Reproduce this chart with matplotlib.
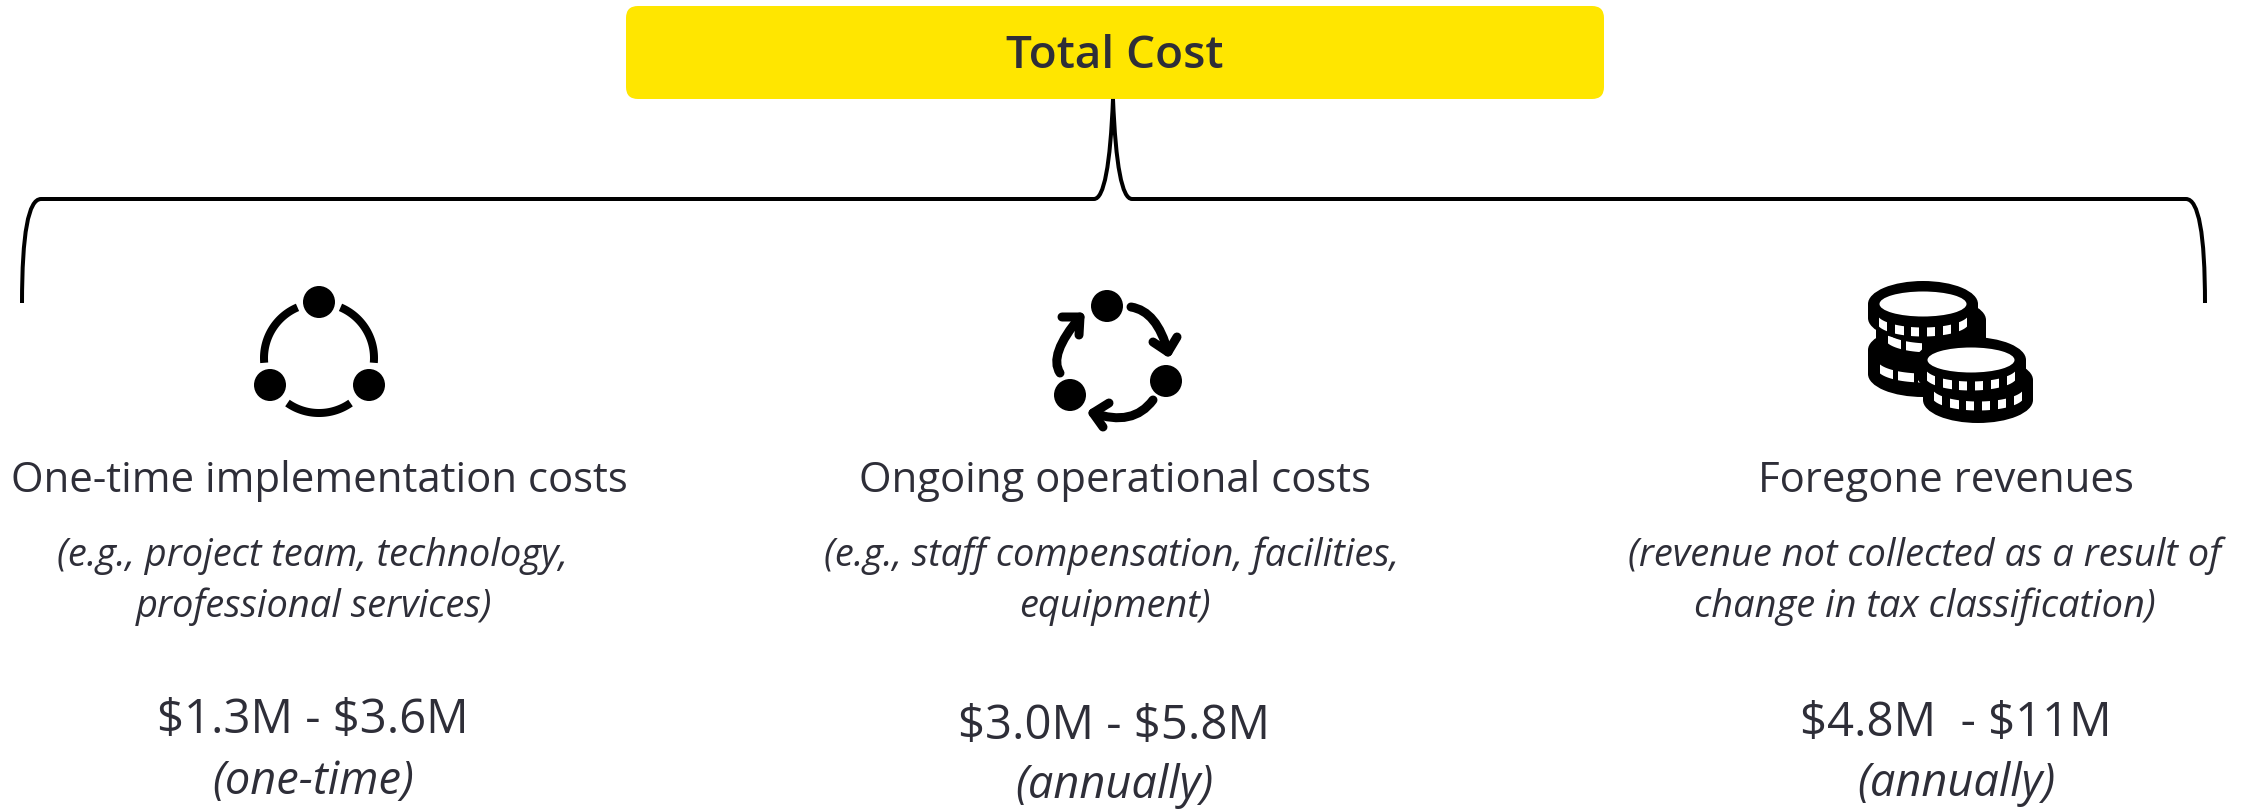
import numpy as np
import matplotlib
matplotlib.use('Agg')
import matplotlib.pyplot as plt
from matplotlib.patches import Circle, Ellipse, FancyBboxPatch, PathPatch, Polygon, Rectangle
from matplotlib.path import Path

# Text content
title = 'Total Cost'
headings = ['One-time implementation costs', 'Ongoing operational costs', 'Foregone revenues']
details = [
    ['(e.g., project team, technology,', 'professional services)'],
    ['(e.g., staff compensation, facilities,', 'equipment)'],
    ['(revenue not collected as a result of', 'change in tax classification)'],
]
cost_ranges = ['$1.3M - $3.6M', '$3.0M - $5.8M', '$4.8M  - $11M']
periods = ['(one-time)', '(annually)', '(annually)']

INK = '#2e2e38'
YELLOW = '#ffe600'
PX = 72 / 100  # one pixel in points

plt.rcParams['font.family'] = ['Open Sans', 'DejaVu Sans']

fig = plt.figure(figsize=(22.52, 8.09), dpi=100)
ax = fig.add_axes([0, 0, 1, 1])
ax.set_xlim(0, 2252)
ax.set_ylim(809, 0)
ax.axis('off')


def label(x, y, s, size, italic=False, weight='normal'):
    ax.text(x, y, s, fontsize=size, color=INK, ha='center', va='center', weight=weight,
            style='italic' if italic else 'normal', parse_math=False)


def arc(cx, cy, r, a0, a1, lw=8):
    t = np.radians(np.linspace(a0, a1, 60))
    ax.plot(cx + r * np.cos(t), cy - r * np.sin(t), color='black', lw=lw * PX,
            solid_capstyle='butt')


def arrow(p0, ctrl, tip, barb1, barb2, lw=9):
    curve = Path([p0, ctrl, tip], [Path.MOVETO, Path.CURVE3, Path.CURVE3])
    ax.add_patch(PathPatch(curve, fill=False, ec='black', lw=lw * PX, capstyle='round'))
    ax.plot([barb1[0], tip[0], barb2[0]], [barb1[1], tip[1], barb2[1]], color='black',
            lw=lw * PX, solid_capstyle='round', solid_joinstyle='round')


def coin(cx, top, height, notches=None, rx=55, ry=23, drop=14):
    # solid black disc seen from above, with edge notches along its rim
    ax.add_patch(Ellipse((cx, top + height), 2 * rx, 2 * ry, color='black', lw=0))
    ax.add_patch(Rectangle((cx - rx, top), 2 * rx, height, color='black', lw=0))
    ax.add_patch(Ellipse((cx, top), 2 * rx, 2 * ry, color='black', lw=0))
    if notches is None:
        return
    for d0, d1 in notches:
        dx = np.linspace(d0, d1, 8)
        low = top + drop + 14 * np.sqrt(1 - (dx / 46) ** 2)
        xs = cx + dx
        ax.add_patch(Polygon(np.r_[np.c_[xs, low - 4.5], np.c_[xs[::-1], low[::-1] + 4.5]],
                             color='white', lw=0))


def coin_face(cx, cy):
    ax.add_patch(Ellipse((cx, cy), 87, 25, color='white', lw=0))


# header box
ax.add_patch(FancyBboxPatch((626, 6), 978, 93, boxstyle='round,pad=0,rounding_size=12',
                            fc=YELLOW, ec='none'))
label(1115, 56, title, 33, weight=600)

# bracket under the header
bracket = Path(
    [(22, 303), (22, 199), (41, 199),
     (1094, 199),
     (1109, 199), (1113, 99),
     (1117, 199), (1132, 199),
     (2186, 199),
     (2205, 199), (2205, 303)],
    [Path.MOVETO, Path.CURVE3, Path.CURVE3,
     Path.LINETO,
     Path.CURVE3, Path.CURVE3,
     Path.CURVE3, Path.CURVE3,
     Path.LINETO,
     Path.CURVE3, Path.CURVE3])
ax.add_patch(PathPatch(bracket, fill=False, ec='black', lw=4 * PX, capstyle='butt'))

# network icon
for c in [(319, 302), (270, 385), (369, 385)]:
    ax.add_patch(Circle(c, 16, color='black', lw=0))
arc(319, 358, 55, 113, 185)
arc(319, 358, 55, -5, 67)
arc(319, 358, 55, 235, 305)

# cycle icon
for c in [(1107, 306), (1166, 381), (1070, 395)]:
    ax.add_patch(Circle(c, 16, color='black', lw=0))
arrow((1131, 307), (1157, 311), (1168, 352), (1153, 342), (1177, 337))
arrow((1153, 400), (1133, 427), (1093, 413), (1109, 403), (1103, 427))
arrow((1060, 373), (1048, 355), (1080, 317), (1062, 317), (1079, 335))

# coins icon: back stack first, front stack over it
rim = [(-44, -36), (-28, -19), (-12, -4), (4, 12), (20, 28), (36, 44)]
coin(1923, 350, 24, [(-43, -30), (-25, -9), (-5, 11), (15, 25)])
coin(1931, 320, 26, [(-43, -30), (-25, -9)])
coin(1923, 304, 14, rim)
coin_face(1923, 304)
coin(1978, 380, 20, rim, drop=12)
coin(1971, 360, 14, rim, drop=12)
coin_face(1971, 360)

# the three columns of text
heading_x = [319, 1115, 1946]
detail_x = [[312, 314], [1112, 1115], [1925, 1925]]
value_pos = [(313, 720), (1114, 726), (1956, 723)]
period_pos = [(313, 782), (1114, 786), (1956, 784)]

for i in range(3):
    label(heading_x[i], 481, headings[i], 30.2)
    label(detail_x[i][0], 556, details[i][0], 27.4, italic=True)
    label(detail_x[i][1], 607, details[i][1], 27.4, italic=True)
    label(value_pos[i][0], value_pos[i][1], cost_ranges[i], 34)
    label(period_pos[i][0], period_pos[i][1], periods[i], 32.5, italic=True)

fig.savefig('out.png', dpi=100, facecolor='white')
